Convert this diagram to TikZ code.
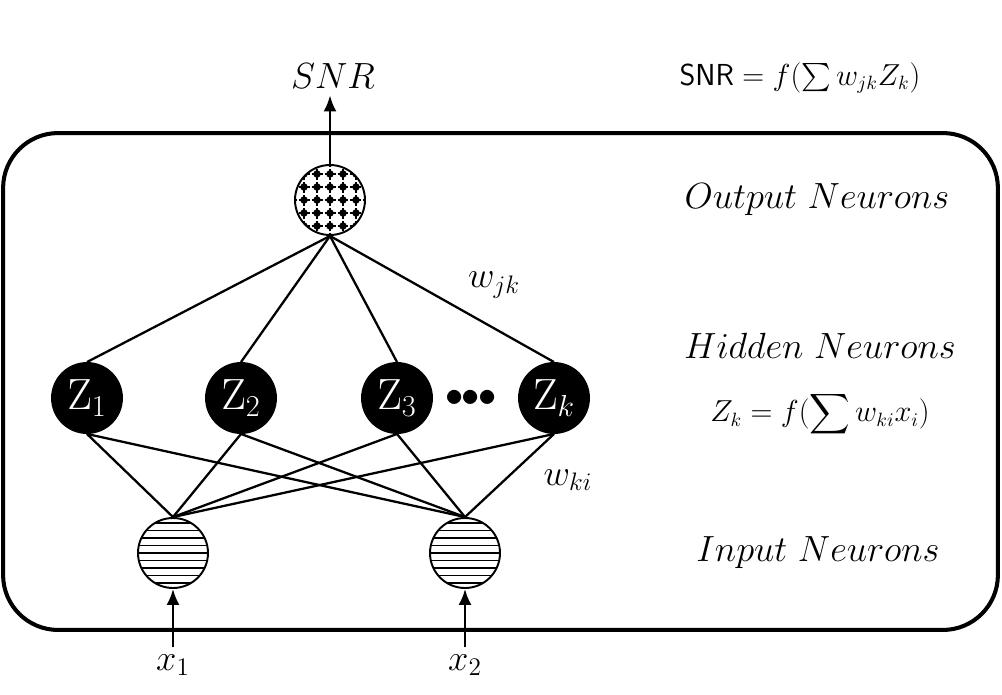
\documentclass[tikz,border=0pt]{standalone}
\usepackage{amsmath}
\usepackage{amssymb}
\usetikzlibrary{positioning, arrows.meta}

\begin{document}
\begin{tikzpicture}[x=0.02cm, y=-0.02cm, line width=1.3pt,
    neuron/.style={circle, draw, line width=1.1pt, minimum size=1.4cm, inner sep=0pt},
    hidden/.style={neuron, fill=black, text=white, font=\fontsize{24}{26}\selectfont},
    input/.style={neuron, path picture={
        \foreach \d in {-4,...,4}
          \draw[line width=1pt] ([yshift=\d*0.15cm]path picture bounding box.west) -- ([yshift=\d*0.15cm]path picture bounding box.east);}},
    output/.style={neuron, path picture={
        \foreach \i in {-3,...,3}
          \foreach \j in {-3,...,3} {
            \fill ([shift={(\i*0.26cm,\j*0.26cm)}]path picture bounding box.center) circle (0.075cm);
            \draw[line width=1.6pt] ([shift={(\i*0.26cm-0.11cm,\j*0.26cm)}]path picture bounding box.center) -- +(0.22cm,0);
            \draw[line width=1.6pt] ([shift={(\i*0.26cm,\j*0.26cm-0.11cm)}]path picture bounding box.center) -- +(0,0.22cm);
          }}},
    label/.style={font=\fontsize{20}{24}\selectfont},
    formula/.style={font=\fontsize{16}{20}\selectfont},
    arr/.style={-{Latex[length=3.2mm, width=2.6mm]}}]
  \useasboundingbox (0,0) rectangle (1002,694);

  % box around the network
  \node[draw, line width=2.3pt, rounded corners=1.1cm, minimum width=19.9cm, minimum height=9.94cm] (frame) at (500.5,381.5) {};

  % neurons
  \node[output] (O)  at (330,200) {};
  \node[hidden] (Z1) at (87,398)  {$\mathrm{Z}_1$};
  \node[hidden] (Z2) at (241,398) {$\mathrm{Z}_2$};
  \node[hidden] (Z3) at (397,398) {$\mathrm{Z}_3$};
  \node[hidden] (Zk) at (554,398) {$\mathrm{Z}_k$};
  \node[font=\fontsize{21}{21}\selectfont] (dots) at (471,398) {$\bullet\mkern-5mu\bullet\mkern-5mu\bullet$};
  \node[input]  (I1) at (173,553) {};
  \node[input]  (I2) at (465,553) {};

  % texts
  \node[label] (snr) at (333,76)  {$SNR$};
  \node[label] (x1)  at (173,665) {$x_1$};
  \node[label] (x2)  at (465,665) {$x_2$};
  \node[label] (wjk) at (494,285) {$w_{jk}$};
  \node[label] (wki) at (568,480) {$w_{ki}$};

  \node[label]   (ON) at (817,200) {$Output\ Neurons$};
  \node[label]   (HN) at (820,346) {$Hidden\ Neurons$};
  \node[label]   (IN) at (818,553) {$Input\ Neurons$};
  \node[formula] (fo) at (800,78)  {$\mathsf{SNR} = f(\textstyle\sum w_{jk}Z_k)$};
  \node[formula] (fh) at (820,414) {$Z_k = f(\displaystyle\sum w_{ki}x_i)$};

  % connections
  \draw[arr] (O.north) -- (O.north |- snr.south);
  \draw[arr] (x1) -- (I1);
  \draw[arr] (x2) -- (I2);

  \foreach \z in {Z1, Z2, Z3, Zk} {
    \draw (O.south) -- (\z.north);
    \draw (\z.south) -- (I1.north);
    \draw (\z.south) -- (I2.north);
  }
\end{tikzpicture}
\end{document}
